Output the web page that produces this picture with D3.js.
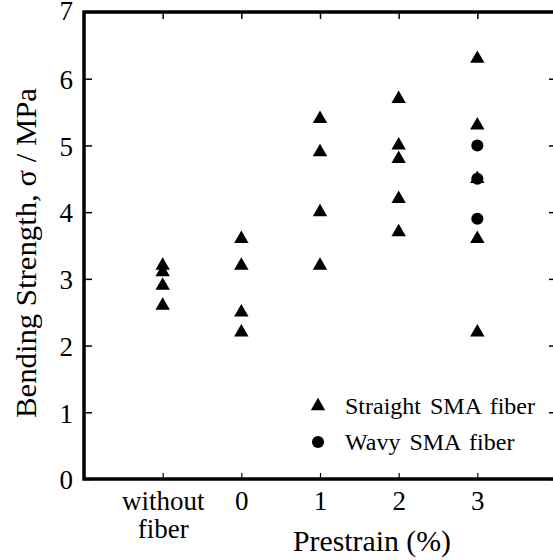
<!DOCTYPE html>
<html>
<head>
<meta charset="utf-8">
<script src="https://cdn.jsdelivr.net/npm/d3@7"></script>
<style>
  body { margin: 0; background: #fff; }
</style>
</head>
<body>
<div id="chart"></div>
<script>
// categories along the x axis (positions 1..5)
var categories = ["without fiber", "0", "1", "2", "3"];
var yTicks = [0, 1, 2, 3, 4, 5, 6, 7];

// straight SMA fiber (triangles), one array of values per category
var straightValues = [
	[3.2, 3.1, 2.9, 2.6],
	[3.6, 3.2, 2.5, 2.2],
	[5.4, 4.9, 4.0, 3.2],
	[5.7, 5.0, 4.8, 4.2, 3.7],
	[6.3, 5.3, 4.5, 3.6, 2.2]
];
// wavy SMA fiber (circles), only at 3 %
var wavyCategory = "3";
var wavyValues = [5.0, 4.5, 3.9];

var legendLabels = ["Straight SMA fiber", "Wavy SMA fiber"];

var chartW = 553, chartH = 560;
// plot frame edges ("top" is a window property, so use other names)
var plotLeft = 84, plotRight = 556, plotTop = 12, plotBottom = 479;

var svg = d3.select("#chart")
	.append("svg")
	.attr("width", chartW)
	.attr("height", chartH);

var x = d3.scaleLinear().domain([0, 6]).range([plotLeft, plotRight]);
var y = d3.scaleLinear().domain([0, 7]).range([plotBottom, plotTop]);

// build point lists
var straightPts = [];
straightValues.forEach(function(vals, i) {
	vals.forEach(function(v) { straightPts.push({ pos: i + 1, v: v }); });
});
var wavyPts = wavyValues.map(function(v) {
	return { pos: categories.indexOf(wavyCategory) + 1, v: v };
});

// left axis: ticks inside, labels outside
var yAxis = svg.append("g")
	.attr("transform", "translate(" + plotLeft + ",0)")
	.call(d3.axisLeft(y).tickValues(yTicks).tickSize(-8).tickPadding(11).tickFormat(d3.format("d")));
yAxis.attr("font-family", "Liberation Serif").attr("font-size", 27);
yAxis.select(".domain").remove();
yAxis.selectAll("line").attr("stroke-width", 1.5);
yAxis.selectAll("text").attr("dy", "0.36em");
// keep the top label inside the picture
yAxis.selectAll(".tick").filter(function(d) { return d === 7; })
	.select("text").attr("dy", "0.7em").attr("y", -11);

// right axis ticks only
var yAxisR = svg.append("g")
	.attr("transform", "translate(" + plotRight + ",0)")
	.call(d3.axisRight(y).tickValues(yTicks).tickSize(-7).tickFormat(""));
yAxisR.select(".domain").remove();
yAxisR.selectAll("line").attr("stroke-width", 1.5);

// top ticks
var xAxisT = svg.append("g")
	.attr("transform", "translate(0," + plotTop + ")")
	.call(d3.axisTop(x).tickValues([1, 2, 3, 4, 5]).tickSize(-7).tickFormat(""));
xAxisT.select(".domain").remove();
xAxisT.selectAll("line").attr("stroke-width", 1.5);

// bottom axis
var xAxis = svg.append("g")
	.attr("transform", "translate(0," + plotBottom + ")")
	.call(d3.axisBottom(x).tickValues([1, 2, 3, 4, 5]).tickSize(-6).tickPadding(0)
		.tickFormat(function(d) { return categories[d - 1]; }));
xAxis.attr("font-family", "Liberation Serif").attr("font-size", 27);
xAxis.select(".domain").remove();
xAxis.selectAll("line").attr("stroke-width", 1.2);
xAxis.selectAll("text")
	.attr("y", 0)
	.attr("dy", null)
	.each(function(d) {
		var t = d3.select(this);
		var words = categories[d - 1].split(" ");
		t.text(null);
		words.forEach(function(w, i) {
			t.append("tspan").attr("x", 0).attr("y", 31 + i * 28).text(w);
		});
	});

// frame
svg.append("rect")
	.attr("x", plotLeft)
	.attr("y", plotTop)
	.attr("width", plotRight - plotLeft)
	.attr("height", plotBottom - plotTop)
	.attr("fill", "none")
	.attr("stroke", "#000")
	.attr("stroke-width", 3.5);

// axis titles
svg.append("text")
	.attr("transform", "translate(36,253) rotate(-90)")
	.attr("text-anchor", "middle")
	.attr("textLength", 330)
	.attr("lengthAdjust", "spacingAndGlyphs")
	.attr("font-family", "Liberation Serif")
	.attr("font-size", 29)
	.text("Bending Strength, σ / MPa");

svg.append("text")
	.attr("x", 372)
	.attr("y", 551)
	.attr("text-anchor", "middle")
	.attr("textLength", 158)
	.attr("lengthAdjust", "spacingAndGlyphs")
	.attr("font-family", "Liberation Serif")
	.attr("font-size", 29)
	.text("Prestrain (%)");

var tri = d3.symbol().type(d3.symbolTriangle).size(90);
var circ = d3.symbol().type(d3.symbolCircle).size(115);

svg.selectAll(".straight")
	.data(straightPts)
	.enter().append("path")
	.attr("class", "straight")
	.attr("d", tri)
	.attr("transform", function(d) { return "translate(" + x(d.pos) + "," + y(d.v) + ")"; })
	.attr("fill", "#000");

svg.selectAll(".wavy")
	.data(wavyPts)
	.enter().append("path")
	.attr("class", "wavy")
	.attr("d", circ)
	.attr("transform", function(d) { return "translate(" + x(d.pos) + "," + y(d.v) + ")"; })
	.attr("fill", "#000");

// legend
var legend = svg.selectAll(".legend")
	.data(legendLabels)
	.enter().append("g")
	.attr("class", "legend")
	.attr("transform", function(d, i) { return "translate(318," + (406 + i * 36) + ")"; });

legend.append("path")
	.attr("d", function(d, i) { return i === 0 ? tri() : circ(); })
	.attr("fill", "#000");

legend.append("text")
	.attr("x", 27)
	.attr("y", 8)
	.attr("font-family", "Liberation Serif")
	.attr("font-size", 24)
	.attr("word-spacing", 3)
	.text(function(d) { return d; });
</script>
</body>
</html>
